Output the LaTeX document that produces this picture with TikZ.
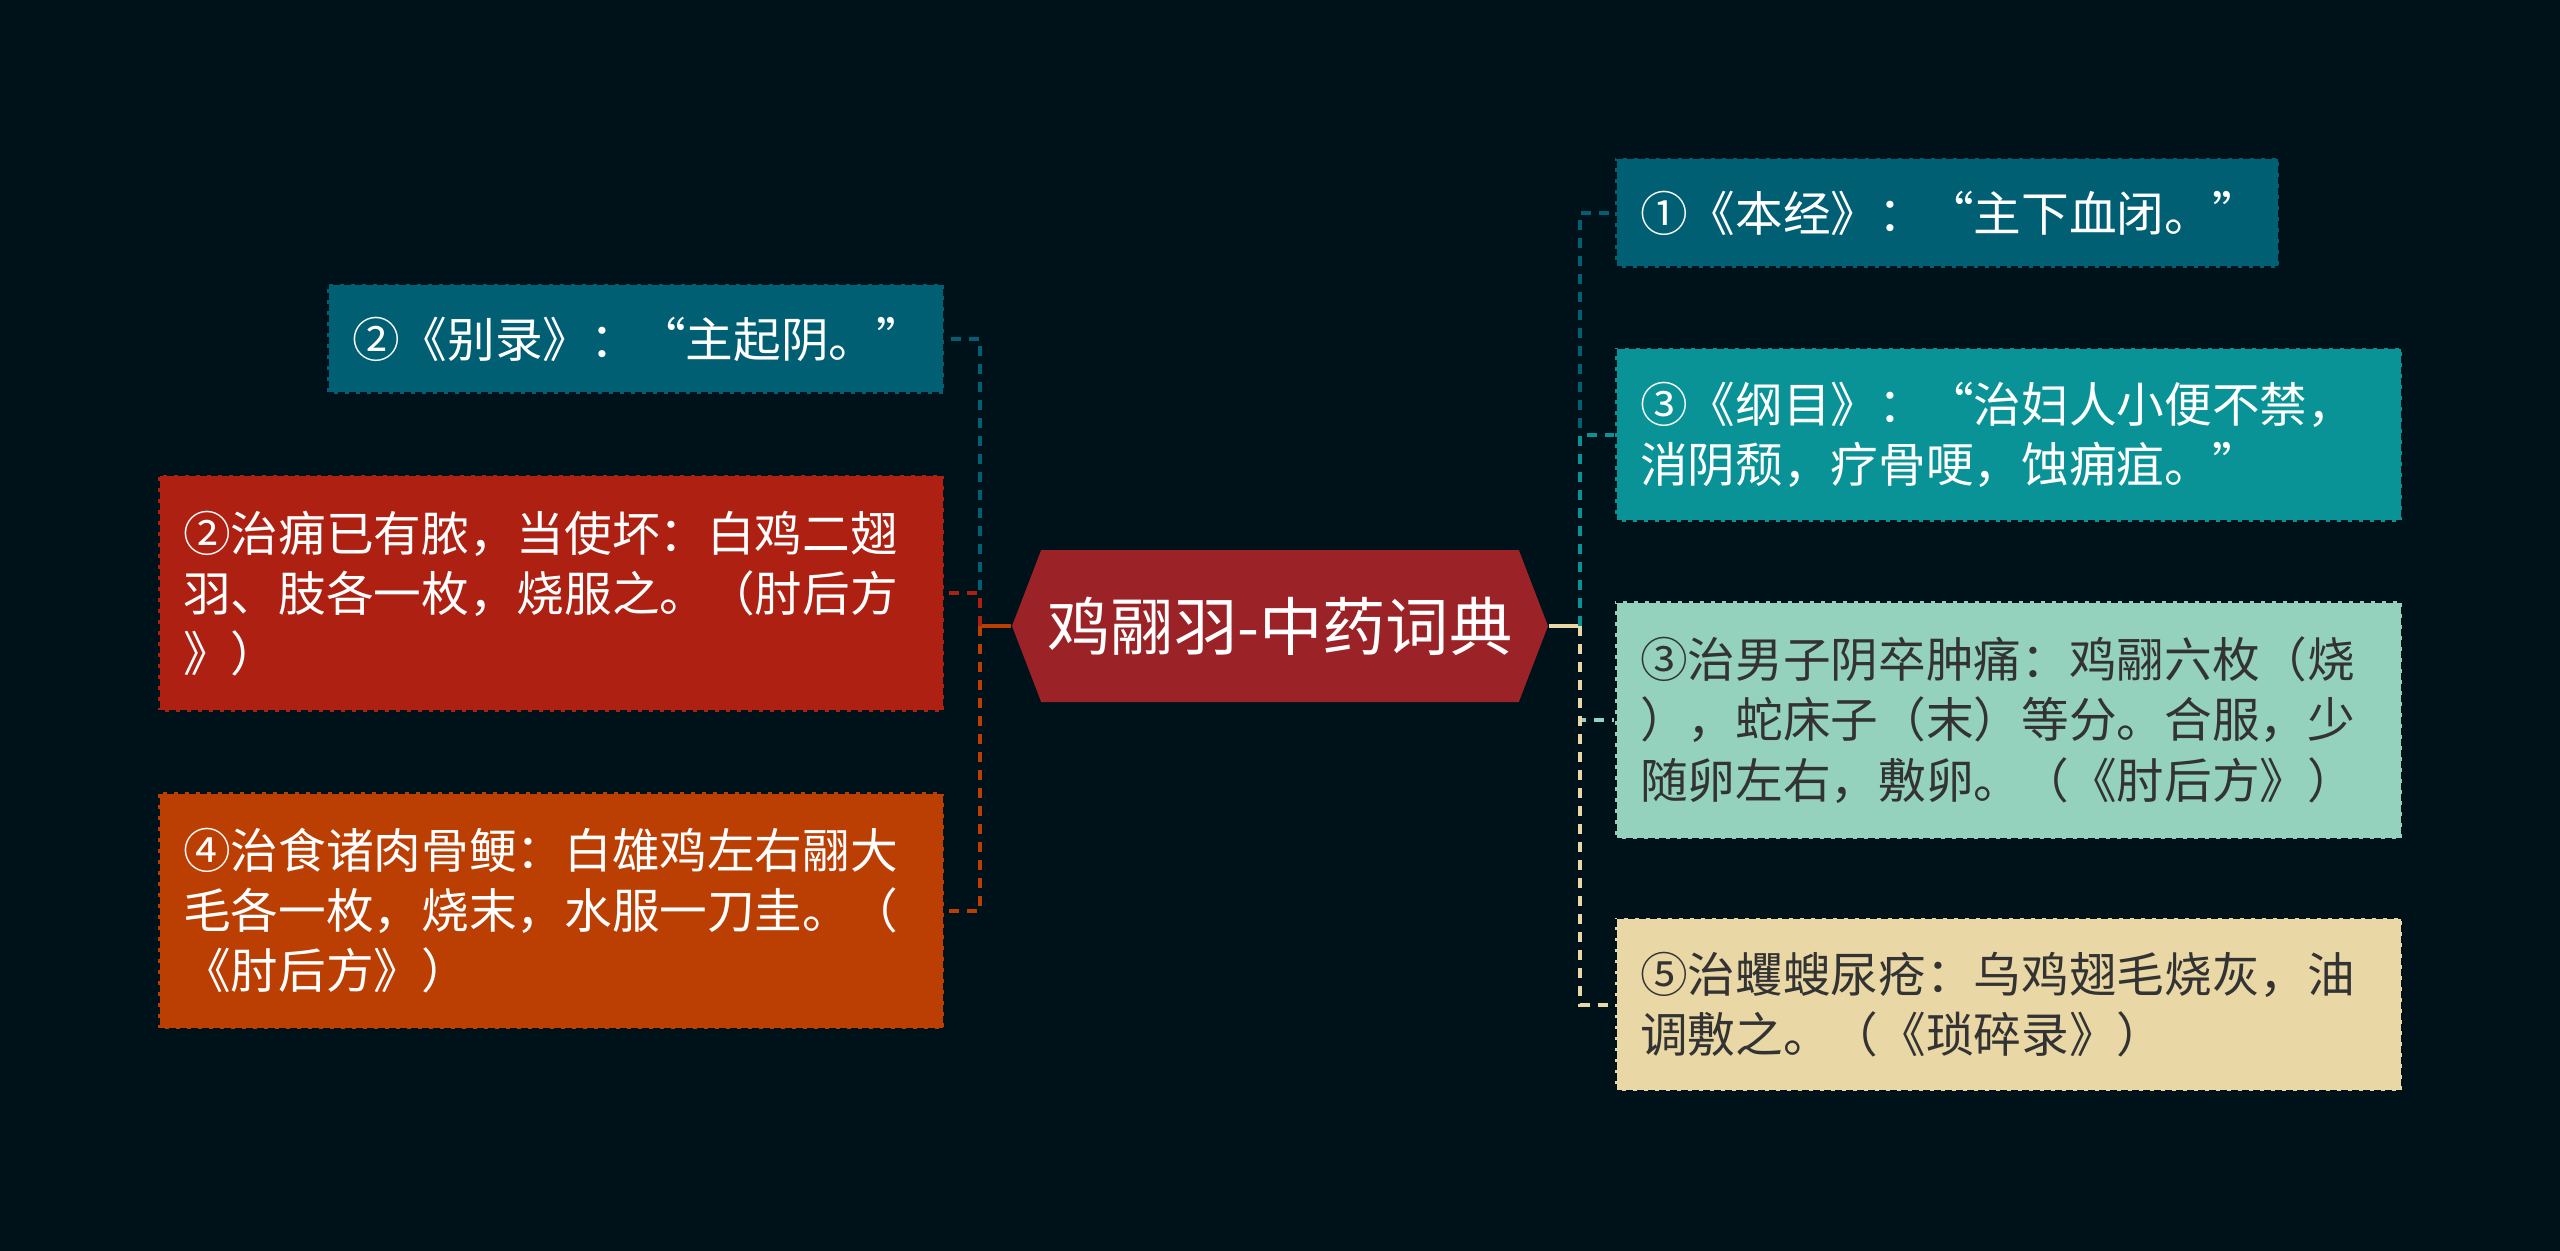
\documentclass[tikz,border=0pt]{standalone}
\usepackage{fontspec}
\setmainfont{Noto Sans CJK SC}
\usetikzlibrary{shapes.symbols}

\definecolor{bgdark}{HTML}{001219}
\definecolor{tealdark}{HTML}{005F73}
\definecolor{tealmid}{HTML}{0A9396}
\definecolor{mint}{HTML}{94D2BD}
\definecolor{sand}{HTML}{E9D8A6}
\definecolor{rust}{HTML}{BB3E03}
\definecolor{brick}{HTML}{AE2012}
\definecolor{wine}{HTML}{9B2226}
\definecolor{inkgray}{HTML}{333333}

\begin{document}
\begin{tikzpicture}[x=0.3pt, y=-0.3pt, thick,
  box/.style={rectangle, draw=bgdark, dash pattern=on 2.2pt off 1.1pt, line width=0.9pt,
    inner xsep=7.5pt, inner ysep=0pt, align=left,
    font=\fontsize{14.3}{18.1}\selectfont},
  link/.style={line width=1.2pt, dash pattern=on 3pt off 2.4pt}]
  % 背景
  \fill[bgdark] (0,0) rectangle (2560,1251);

  \coordinate (LS) at (980,626);
  \coordinate (RS) at (1580,626);

  \node[signal, signal to=west and east, signal pointer angle=138,
    fill=wine, minimum width=160.8pt, minimum height=45.6pt, inner sep=0pt,
    text=white, font=\fontsize{19}{22}\selectfont] (root) at (1280,626) {鸡翮羽-中药词典};

  % 左侧
  \node[box, fill=tealdark, text=white,
    text width=170.1pt, minimum height=33pt] (l1) at (635.5,339)
    {②《别录》：“主起阴。”};
  \node[box, fill=brick, text=white,
    text width=220.8pt, minimum height=71.1pt] (l2) at (551,593.5)
    {②治痈已有脓，当使坏：白鸡二翅\\羽、肢各一枚，烧服之。（肘后方\\》）};
  \node[box, fill=rust, text=white,
    text width=220.8pt, minimum height=71.1pt] (l3) at (551,910.5)
    {④治食诸肉骨鲠：白雄鸡左右翮大\\毛各一枚，烧末，水服一刀圭。（\\《肘后方》）};

  % 右侧
  \node[box, fill=tealdark, text=white,
    text width=184.2pt, minimum height=33pt] (r1) at (1947,213)
    {①《本经》：“主下血闭。”};
  \node[box, fill=tealmid, text=white,
    text width=221.1pt, minimum height=52.2pt] (r2) at (2008.5,435)
    {③《纲目》：“治妇人小便不禁，\\消阴颓，疗骨哽，蚀痈疽。”};
  \node[box, fill=mint, text=inkgray,
    text width=221.1pt, minimum height=71.4pt] (r3) at (2008.5,720)
    {③治男子阴卒肿痛：鸡翮六枚（烧\\），蛇床子（末）等分。合服，少\\随卵左右，敷卵。（《肘后方》）};
  \node[box, fill=sand, text=inkgray,
    text width=221.1pt, minimum height=52pt] (r4) at (2008.5,1004.5)
    {⑤治蠼螋尿疮：乌鸡翅毛烧灰，油\\调敷之。（《琐碎录》）};

  % 连线
  \draw[rust, line width=1.2pt] (root.west) -- (LS);
  \draw[link, tealdark] (LS) |- (l1.east);
  \draw[link, brick] (LS) |- (l2.east);
  \draw[link, rust] (LS) |- (l3.east);
  \draw[sand, line width=1.2pt] (root.east) -- (RS);
  \draw[link, tealdark] (RS) |- (r1.west);
  \draw[link, tealmid] (RS) |- (r2.west);
  \draw[link, mint] (RS) |- (r3.west);
  \draw[link, sand] (RS) |- (r4.west);
\end{tikzpicture}
\end{document}
